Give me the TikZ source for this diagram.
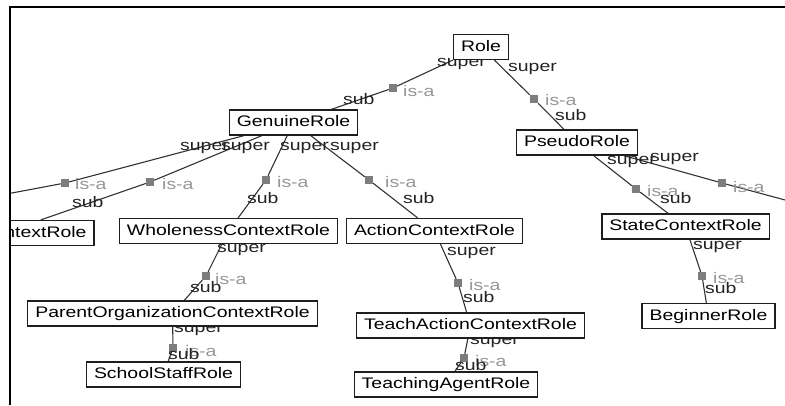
\documentclass[tikz,border=0pt]{standalone}
\usepackage{fontspec}
\setmainfont{Liberation Sans}[FakeStretch=1.27]
\usetikzlibrary{backgrounds}
\newcommand\diafont{\fontsize{15.3}{18}\selectfont}
\definecolor{boxc}{RGB}{30,30,30}
\definecolor{edgec}{RGB}{50,50,50}
\definecolor{labc}{RGB}{35,35,35}
\definecolor{isac}{RGB}{150,150,150}
\definecolor{markc}{RGB}{125,125,125}
\begin{document}
\begin{tikzpicture}[x=1pt,y=-1pt,
  role/.style={draw=boxc, line width=1.3pt, fill=white, inner xsep=7.5pt, inner ysep=0pt,
    minimum height=25pt, text height=11pt, text depth=3pt, font=\diafont},
  isamark/.style={fill=markc, minimum size=8pt, inner sep=0pt},
  edge/.style={draw=edgec, line width=1.1pt},
  suplab/.style={anchor=base west, inner sep=0pt, text=labc, font=\diafont},
  isalab/.style={anchor=base west, inner sep=0pt, text=isac, font=\diafont},
  frameline/.style={draw=black, line width=2pt}]
\useasboundingbox (0,0) rectangle (785,405);
% role boxes
\node[role] (role) at (481,47) {Role};
\node[role] (gen) at (293.5,122.5) {GenuineRole};
\node[role] (pse) at (577,142.5) {PseudoRole};
\node[role, text width=167pt, align=right] (ntx) at (3,233) {ntextRole};
\node[role] (who) at (228.5,231) {WholenessContextRole};
\node[role] (act) at (434.5,231) {ActionContextRole};
\node[role] (sta) at (685.5,226.5) {StateContextRole};
\node[role] (par) at (172.5,313.5) {ParentOrganizationContextRole};
\node[role] (tac) at (470.5,325.5) {TeachActionContextRole};
\node[role] (beg) at (708.5,316) {BeginnerRole};
\node[role] (sch) at (163.5,374.5) {SchoolStaffRole};
\node[role] (tag) at (446,384.5) {TeachingAgentRole};
\coordinate (offl) at (-20,199);
\coordinate (offr) at (800,204);
\begin{scope}[on background layer]
  % is-a markers
  \node[isamark] (m1) at (393,88) {};
  \node[isamark] (m2) at (534,99) {};
  \node[isamark] (m3) at (65,183) {};
  \node[isamark] (m4) at (150,182) {};
  \node[isamark] (m5) at (266,180) {};
  \node[isamark] (m6) at (369,180) {};
  \node[isamark] (m7) at (636,189) {};
  \node[isamark] (m8) at (722,183) {};
  \node[isamark] (m9) at (206,276) {};
  \node[isamark] (m10) at (458,283) {};
  \node[isamark] (m11) at (702,276) {};
  \node[isamark] (m12) at (173,348) {};
  \node[isamark] (m13) at (464,358) {};
  % connectors
  \draw[edge] (role) -- (m1) -- (gen);
  \draw[edge] (role) -- (m2) -- (pse);
  \draw[edge] (gen) -- (m3) -- (offl);
  \draw[edge] (gen) -- (m4) -- (ntx);
  \draw[edge] (gen) -- (m5) -- (who);
  \draw[edge] (gen) -- (m6) -- (act);
  \draw[edge] (pse) -- (m7) -- (sta);
  \draw[edge] (pse) -- (m8) -- (offr);
  \draw[edge] (who) -- (m9) -- (par);
  \draw[edge] (act) -- (m10) -- (tac);
  \draw[edge] (sta) -- (m11) -- (beg);
  \draw[edge] (par) -- (m12) -- (sch);
  \draw[edge] (tac) -- (m13) -- (tag);
  % labels
  \node[suplab] (s1) at (437,66) {super};
  \node[isalab] (i1) at (403,96) {is-a};
  \node[suplab] (b1) at (343,104) {sub};
  \node[suplab] (s2) at (508,71) {super};
  \node[isalab] (i2) at (545,105) {is-a};
  \node[suplab] (b2) at (555,120) {sub};
  \node[suplab] (s3) at (180,150) {super};
  \node[isalab] (i3) at (75,189) {is-a};
  \node[suplab] (s4) at (221,150) {super};
  \node[isalab] (i4) at (162,189) {is-a};
  \node[suplab] (b4) at (72,207) {sub};
  \node[suplab] (s5) at (280,150) {super};
  \node[isalab] (i5) at (277,187) {is-a};
  \node[suplab] (b5) at (247,203) {sub};
  \node[suplab] (s6) at (330,150) {super};
  \node[isalab] (i6) at (385,187) {is-a};
  \node[suplab] (b6) at (403,203) {sub};
  \node[suplab] (s7) at (607,164) {super};
  \node[isalab] (i7) at (647,196) {is-a};
  \node[suplab] (b7) at (660,203) {sub};
  \node[suplab] (s8) at (650,161) {super};
  \node[isalab] (i8) at (733,192) {is-a};
  \node[suplab] (s9) at (217,252) {super};
  \node[isalab] (i9) at (215,284) {is-a};
  \node[suplab] (b9) at (190,292) {sub};
  \node[suplab] (s10) at (447,255) {super};
  \node[isalab] (i10) at (469,290) {is-a};
  \node[suplab] (b10) at (463,302) {sub};
  \node[suplab] (s11) at (693,249) {super};
  \node[isalab] (i11) at (713,283) {is-a};
  \node[suplab] (b11) at (705,293) {sub};
  \node[suplab] (s12) at (174,332) {super};
  \node[isalab] (i12) at (185,356) {is-a};
  \node[suplab] (b12) at (168,359) {sub};
  \node[suplab] (s13) at (470,344) {super};
  \node[isalab] (i13) at (475,366) {is-a};
  \node[suplab] (b13) at (455,370) {sub};
\end{scope}
% cover outside the frame
\fill[white] (0,0) rectangle (10,405);
\fill[white] (0,0) rectangle (785,7);
\draw[frameline] (10,405) -- (10,7) -- (785,7);
\end{tikzpicture}
\end{document}
